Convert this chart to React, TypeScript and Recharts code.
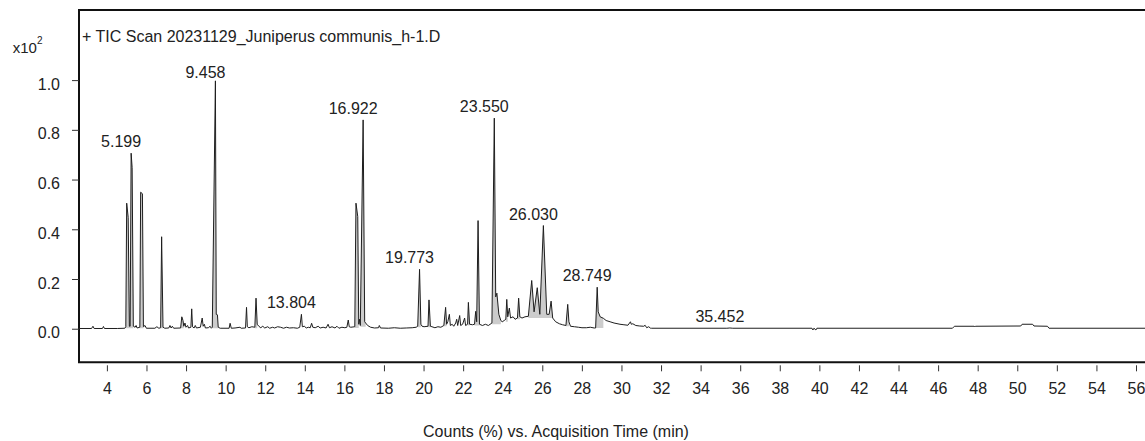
import React from 'react';
import { ComposedChart, Line, Area, Scatter, XAxis, YAxis, ReferenceArea } from 'recharts';

// ---- data (time in min, counts in x10^2 %) ----
const ticEarly: [number, number][] = [
  [2.565, 0.003], [3.2, 0.003], [3.27, 0.012], [3.33, 0.003], [3.75, 0.003], [3.8, 0.011], [3.85, 0.003],
  [4.5, 0.003], [4.88, 0.004], [4.93, 0.01], [4.975, 0.507], [5.05, 0.45], [5.11, 0.012], [5.15, 0.012],
  [5.199, 0.708], [5.25, 0.65], [5.31, 0.012], [5.4, 0.008], [5.45, 0.015], [5.5, 0.005], [5.64, 0.008],
  [5.68, 0.551], [5.77, 0.545], [5.82, 0.01], [5.9, 0.015], [5.97, 0.004], [6.4, 0.004], [6.5, 0.01],
  [6.6, 0.004], [6.69, 0.006], [6.74, 0.372], [6.81, 0.008], [6.9, 0.004], [7.1, 0.005], [7.16, 0.015],
  [7.22, 0.005], [7.28, 0.012], [7.35, 0.004], [7.7, 0.005], [7.76, 0.05], [7.82, 0.035], [7.86, 0.012],
  [7.92, 0.025], [7.97, 0.008], [8.05, 0.015], [8.1, 0.005], [8.22, 0.008], [8.26, 0.082], [8.3, 0.01],
  [8.38, 0.005], [8.44, 0.015], [8.5, 0.005], [8.7, 0.008], [8.79, 0.045], [8.84, 0.012], [8.9, 0.02],
  [8.95, 0.005], [9.1, 0.006], [9.19, 0.012], [9.25, 0.004], [9.3, 0.008], [9.458, 0.999], [9.5, 0.06],
  [9.56, 0.058], [9.6, 0.008], [9.7, 0.004],
];

const ticMidA: [number, number][] = [
  [10.15, 0.004], [10.2, 0.024], [10.26, 0.004], [10.45, 0.005], [10.7, 0.008], [10.76, 0.004],
  [10.98, 0.005], [11.03, 0.088], [11.07, 0.01], [11.15, 0.006], [11.3, 0.01], [11.45, 0.008],
  [11.51, 0.125], [11.57, 0.02], [11.65, 0.012], [11.75, 0.006], [11.85, 0.012], [11.95, 0.005],
  [12.1, 0.01], [12.2, 0.004], [12.35, 0.008], [12.45, 0.005], [12.6, 0.01], [12.75, 0.008], [12.9, 0.004],
  [13.05, 0.008], [13.2, 0.005], [13.4, 0.006], [13.6, 0.004], [13.72, 0.008], [13.804, 0.06], [13.85, 0.01],
  [13.95, 0.012], [14.05, 0.005], [14.15, 0.008], [14.25, 0.006], [14.32, 0.024], [14.38, 0.008],
  [14.5, 0.006], [14.65, 0.012], [14.75, 0.005], [14.9, 0.008], [15.05, 0.005], [15.15, 0.02],
  [15.22, 0.006], [15.35, 0.01], [15.5, 0.005], [15.6, 0.012], [15.7, 0.004], [15.85, 0.008], [16.0, 0.006],
];

const ticMidB: [number, number][] = [
  [16.1, 0.008], [16.17, 0.037], [16.22, 0.01], [16.3, 0.008], [16.5, 0.01], [16.56, 0.507], [16.65, 0.453],
  [16.7, 0.02], [16.74, 0.04], [16.78, 0.015], [16.922, 0.842], [17.0, 0.03], [17.05, 0.025], [17.15, 0.015],
  [17.3, 0.008], [17.5, 0.005], [17.7, 0.006], [17.74, 0.015], [17.8, 0.005], [18.2, 0.004], [18.5, 0.006],
  [18.8, 0.004], [19.1, 0.005], [19.4, 0.006], [19.6, 0.008], [19.68, 0.012], [19.773, 0.241], [19.84, 0.02],
  [19.9, 0.012], [20.0, 0.01], [20.2, 0.012], [20.25, 0.118], [20.32, 0.012], [20.4, 0.01], [20.55, 0.006],
  [20.7, 0.01], [20.85, 0.008], [21.0, 0.015], [21.09, 0.088], [21.14, 0.02], [21.2, 0.03], [21.28, 0.06],
  [21.33, 0.015], [21.42, 0.02], [21.5, 0.012], [21.6, 0.025], [21.65, 0.04], [21.7, 0.015], [21.8, 0.055],
  [21.85, 0.015], [21.95, 0.02], [22.05, 0.045], [22.1, 0.015], [22.2, 0.02], [22.24, 0.108], [22.3, 0.02],
  [22.45, 0.018], [22.55, 0.02], [22.61, 0.072], [22.66, 0.03], [22.73, 0.437], [22.8, 0.02], [22.95, 0.015],
  [23.1, 0.02], [23.25, 0.015],
];

const ticMidC: [number, number][] = [
  [23.43, 0.025], [23.55, 0.849], [23.62, 0.13], [23.68, 0.145], [23.78, 0.06], [23.88, 0.035],
  [23.95, 0.03], [24.05, 0.035], [24.13, 0.04], [24.18, 0.12], [24.23, 0.05], [24.31, 0.085], [24.37, 0.045],
  [24.5, 0.05], [24.6, 0.04], [24.72, 0.045], [24.78, 0.125], [24.84, 0.05], [24.95, 0.045], [25.1, 0.05],
  [25.27, 0.052], [25.44, 0.196], [25.56, 0.07], [25.72, 0.167], [25.85, 0.06], [26.03, 0.417], [26.2, 0.06],
  [26.32, 0.06], [26.42, 0.113], [26.5, 0.045], [26.65, 0.03], [26.84, 0.022], [27.0, 0.018], [27.17, 0.015],
  [27.26, 0.1], [27.32, 0.03], [27.4, 0.012], [27.6, 0.01], [27.8, 0.008], [27.98, 0.006], [28.2, 0.006],
  [28.4, 0.008], [28.6, 0.005], [28.67, 0.005], [28.749, 0.169], [28.8, 0.07], [28.9, 0.05], [29.06, 0.044],
  [29.2, 0.035], [29.4, 0.03], [29.6, 0.025], [29.9, 0.02], [30.1, 0.018], [30.3, 0.016], [30.43, 0.03],
  [30.47, 0.02], [30.55, 0.022], [30.7, 0.015], [30.9, 0.013], [31.1, 0.012], [31.17, 0.016], [31.25, 0.006],
  [31.35, 0.01], [31.45, 0.004],
];

const ticLate: [number, number][] = [
  [31.5, 0.004], [35.3, 0.004], [35.452, 0.005], [35.6, 0.004], [39.6, 0.004], [39.65, -0.003], [39.7, 0.004],
  [39.8, -0.003], [39.85, 0.004], [46.7, 0.004], [46.8, 0.012], [47.8, 0.012], [47.83, 0.009], [47.86, 0.012],
  [50.15, 0.013], [50.22, 0.02], [50.75, 0.02], [50.82, 0.013], [51.5, 0.012], [51.58, 0.004], [57, 0.004],
];

// integrated (shaded) peak regions: [start, end, baseline]
const integratedRegions: [number, number, number][] = [
  [4.92, 5.12, 0.004], [5.14, 5.32, 0.004], [5.63, 5.83, 0.004], [6.68, 6.82, 0.004], [7.69, 7.87, 0.004],
  [9.29, 9.62, 0.004], [11.44, 11.58, 0.004], [16.49, 16.71, 0.005], [16.77, 17.06, 0.01], [19.67, 19.85, 0.008],
  [20.19, 20.33, 0.008], [21.0, 21.15, 0.012], [22.19, 22.31, 0.015], [22.54, 22.81, 0.015], [23.42, 23.89, 0.02],
  [24.12, 24.24, 0.03], [24.71, 24.85, 0.04], [25.27, 26.5, 0.045], [27.16, 27.33, 0.012], [28.67, 29.06, 0.005],
];

const peakLabelTimes = [5.199, 9.458, 13.804, 16.922, 19.773, 23.55, 26.03, 28.749, 35.452];
const peakLabelTexts = ['5.199', '9.458', '13.804', '16.922', '19.773', '23.550', '26.030', '28.749', '35.452'];
const peakTopValues = [0.708, 0.999, 0.06, 0.842, 0.241, 0.849, 0.417, 0.169, 0.005];

const xTicks = [4, 6, 8, 10, 12, 14, 16, 18, 20, 22, 24, 26, 28, 30, 32, 34, 36, 38, 40, 42, 44, 46, 48, 50, 52, 54, 56];
const yTicks = [0, 0.2, 0.4, 0.6, 0.8, 1.0];

const X_MIN = 2.565;
const X_MAX = 57;
const Y_MIN = -0.133;
const Y_MAX = 1.284;

const FONT = '"Liberation Sans", Arial, Helvetica, sans-serif';
const TEXT = '#222';

const rows = [...ticEarly, ...ticMidA, ...ticMidB, ...ticMidC, ...ticLate].map(([t, v]) => {
  const reg = integratedRegions.find(([s, e]) => t >= s && t <= e);
  return { t, v, band: reg ? [reg[2], v] : null };
});

const labelRows = peakLabelTimes.map((t, i) => ({ t, v: peakTopValues[i], label: peakLabelTexts[i] }));

const XTick = (props: any) => {
  const { x, y, payload } = props;
  return (
    <g>
      <line x1={x} x2={x} y1={y + 3} y2={y + 9} stroke="#333" strokeWidth={1} />
      <text x={x} y={y + 32} textAnchor="middle" fontFamily={FONT} fontSize={16} fill={TEXT}>
        {payload.value}
      </text>
    </g>
  );
};

const YTick = (props: any) => {
  const { x, y, payload } = props;
  return (
    <g>
      <line x1={x - 7} x2={x} y1={y} y2={y} stroke="#333" strokeWidth={1} />
      <text x={x - 19} y={y + 9} textAnchor="end" fontFamily={FONT} fontSize={16} fill={TEXT}>
        {Number(payload.value).toFixed(1)}
      </text>
    </g>
  );
};

const PeakLabel = (props: any) => {
  const { cx, cy, payload } = props;
  if (cx == null || cy == null) return null;
  const by = Math.max(cy - 6, 78.3);
  return (
    <text x={cx - 10} y={by} textAnchor="middle" fontFamily={FONT} fontSize={16} fill={TEXT}>
      {payload.label}
    </text>
  );
};

export default function App() {
  return (
    <div style={{ position: 'absolute', left: 0, top: 0, width: 1145, height: 441, overflow: 'hidden', background: '#fff' }}>
      <ComposedChart
        width={1160}
        height={441}
        data={rows}
        margin={{ top: 10, right: 3.7, bottom: 28.7, left: 0 }}
      >
        <XAxis
          dataKey="t"
          type="number"
          domain={[X_MIN, X_MAX]}
          allowDataOverflow
          ticks={xTicks}
          interval={0}
          height={50}
          axisLine={false}
          tickLine={false}
          tickSize={0}
          tickMargin={0}
          tick={<XTick />}
        />
        <YAxis
          dataKey="v"
          type="number"
          domain={[Y_MIN, Y_MAX]}
          allowDataOverflow
          ticks={yTicks}
          interval={0}
          width={79}
          axisLine={false}
          tickLine={false}
          tickSize={0}
          tickMargin={0}
          tick={<YTick />}
        />
        <ReferenceArea
          x1={X_MIN}
          x2={X_MAX}
          y1={Y_MIN}
          y2={Y_MAX}
          fill="none"
          fillOpacity={0}
          stroke="#111"
          strokeWidth={2}
          ifOverflow="visible"
        />
        <Area
          dataKey="band"
          type="linear"
          fill="#cccccc"
          fillOpacity={1}
          stroke="none"
          isAnimationActive={false}
          connectNulls={false}
          dot={false}
          activeDot={false}
        />
        <Line
          dataKey="v"
          type="linear"
          stroke="#1e1e1e"
          strokeWidth={1}
          dot={false}
          activeDot={false}
          isAnimationActive={false}
        />
        <Scatter data={labelRows} dataKey="v" shape={<PeakLabel />} isAnimationActive={false} />
      </ComposedChart>
      <svg width={1145} height={441} style={{ position: 'absolute', left: 0, top: 0, pointerEvents: 'none' }}>
        <text x={12.7} y={53.3} fontFamily={FONT} fontSize={15} fill={TEXT}>x10</text>
        <text x={37} y={44} fontFamily={FONT} fontSize={10} fill={TEXT}>2</text>
        <text x={82} y={42} fontFamily={FONT} fontSize={16} fill={TEXT}>+ TIC Scan 20231129_Juniperus communis_h-1.D</text>
        <text x={556} y={437} textAnchor="middle" fontFamily={FONT} fontSize={16} fill={TEXT}>
          Counts (%) vs. Acquisition Time (min)
        </text>
      </svg>
    </div>
  );
}
